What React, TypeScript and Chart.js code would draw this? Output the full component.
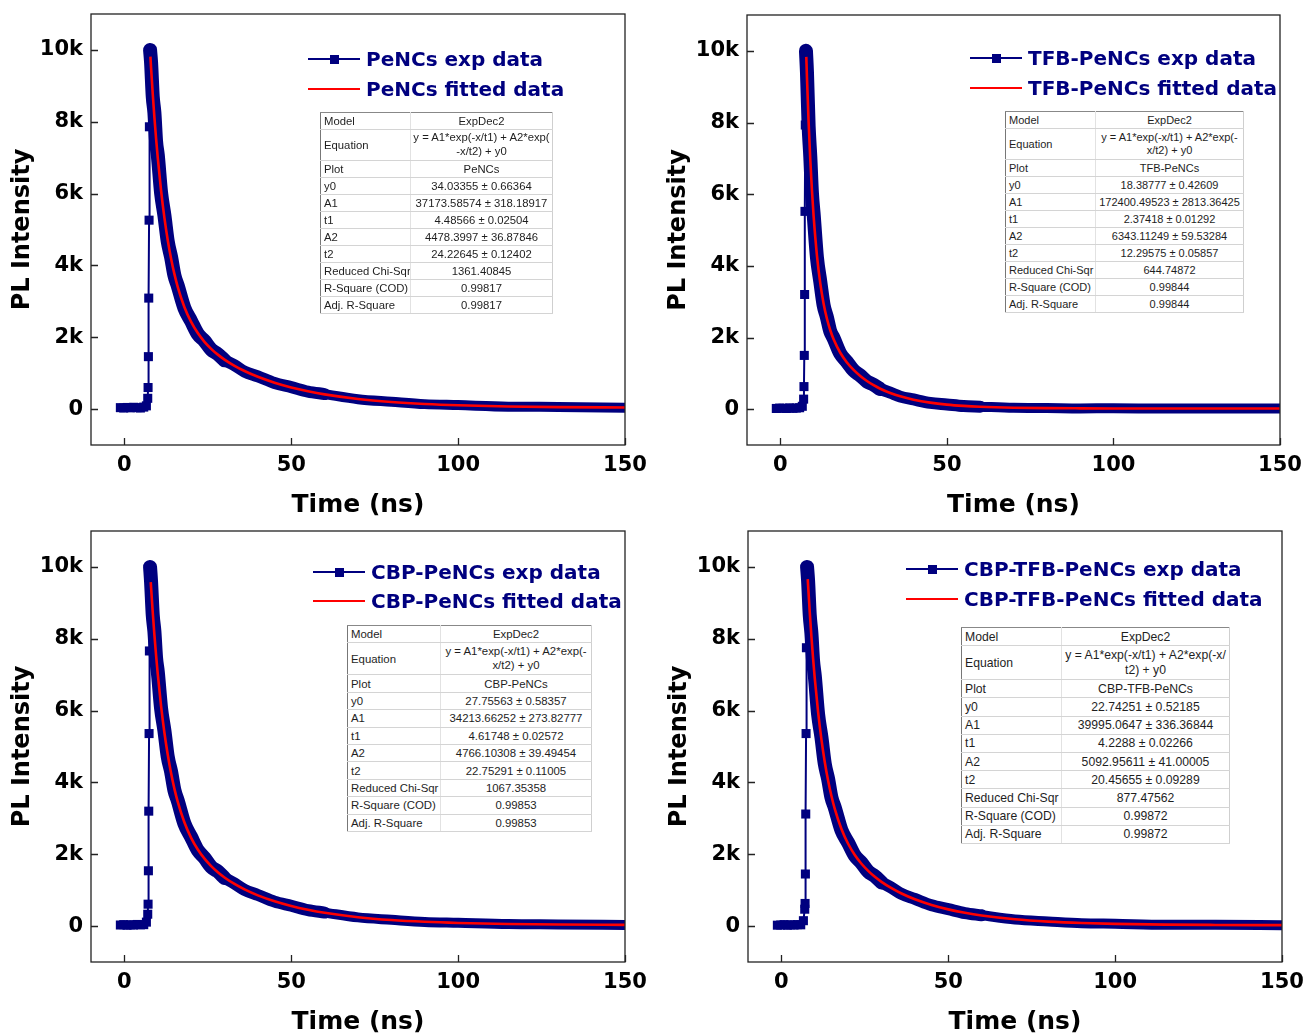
import React, { useEffect, useRef } from "react";
import { Chart, registerables } from "chart.js";

Chart.register(...registerables);

// ---------- axes ----------
const X_TICK_VALUES = [0, 50, 100, 150];
const X_TICK_LABELS = ["0", "50", "100", "150"];
const Y_TICK_VALUES = [0, 2000, 4000, 6000, 8000, 10000];
const Y_TICK_LABELS = ["0", "2k", "4k", "6k", "8k", "10k"];
const X_MIN = -10;
const X_MAX = 150;
const Y_MIN = -1000;
const Y_MAX = 11000;

// ---------- sampling times (ns) ----------
const BASELINE_TIME_NS = [-1.2, -0.2, 0.8, 1.8, 2.8, 3.8, 4.8, 5.8, 6.6];
const RISE_TIME_NS = [7.0, 7.1, 7.2, 7.3, 7.4, 7.5, 7.6, 7.7];
const DECAY_TIME_NS = [8, 8.5, 9, 9.5, 10, 11, 12, 13, 14, 15, 16, 18, 20, 22, 24, 26, 28, 30, 33, 36, 40, 45, 50, 55, 60, 70, 80, 90, 100, 115, 130, 150];
// the noisier early part of the decay is drawn as a wider band
const BAND_SEGMENTS_NS = [
  [0, 30],
  [30, 60],
  [60, 150],
];
const BAND_WIDTHS = [14, 12, 10];

// ---------- PeNCs ----------
const PENCS_BASELINE = [40, 30, 45, 35, 50, 40, 30, 55, 90];
const PENCS_RISE = [300, 600, 1460, 3090, 5260, 7860, 9230, 10000];
const PENCS_EXP = [9650, 8700, 8250, 7450, 7080, 6020, 5390, 4660, 4230, 3720, 3430, 2810, 2450, 2090, 1900, 1660, 1530, 1360, 1220, 1045, 910, 725, 612, 488, 418, 276, 205, 138, 111, 68, 60, 40];
const PENCS_FIT_START_NS = 7.8;
const PENCS_FIT_START = 9813;
const PENCS_FIT = [9501, 8776, 8122, 7532, 6999, 6079, 5324, 4701, 4186, 3757, 3398, 2836, 2426, 2116, 1873, 1678, 1516, 1379, 1205, 1060, 898, 735, 603, 497, 410, 283, 199, 143, 106, 73, 55, 43];

// ---------- TFB-PeNCs ----------
const TFB_BASELINE = [20, 30, 25, 20, 35, 25, 30, 40, 80];
const TFB_RISE = [280, 630, 1500, 3200, 5520, 7930, 9400, 10000];
const TFB_EXP = [9400, 7900, 7050, 6020, 5450, 4230, 3560, 2900, 2560, 2170, 1980, 1550, 1320, 1080, 940, 775, 680, 560, 460, 350, 270, 176, 132, 87, 70, 37, 31, 21, 24, 16, 20, 17];
const TFB_FIT_START_NS = 7.8;
const TFB_FIT_START = 9832;
const TFB_FIT = [9256, 8000, 6961, 6101, 5386, 4288, 3509, 2944, 2524, 2202, 1949, 1574, 1303, 1095, 926, 787, 670, 571, 452, 358, 264, 182, 127, 91, 67, 40, 28, 23, 20, 19, 18.5, 18.4];

// ---------- CBP-PeNCs ----------
const CBP_BASELINE = [30, 40, 25, 35, 30, 45, 35, 40, 110];
const CBP_RISE = [330, 610, 1540, 3200, 5360, 7660, 9300, 10000];
const CBP_EXP = [9580, 8660, 8200, 7460, 7090, 6060, 5440, 4710, 4300, 3780, 3490, 2850, 2480, 2110, 1900, 1650, 1520, 1340, 1185, 1008, 866, 680, 566, 445, 376, 242, 175, 114, 91, 55, 46, 31];
const CBP_FIT_START_NS = 7.9;
const CBP_FIT_START = 9578;
const CBP_FIT = [9432, 8738, 8109, 7540, 7022, 6126, 5384, 4768, 4254, 3821, 3457, 2882, 2457, 2132, 1877, 1670, 1500, 1354, 1172, 1021, 855, 689, 558, 453, 369, 248, 169, 119, 87, 58, 43, 34];

// ---------- CBP-TFB-PeNCs ----------
const CBPTFB_BASELINE = [25, 30, 40, 25, 35, 30, 40, 35, 150];
const CBPTFB_RISE = [470, 630, 1450, 3120, 5360, 7750, 9210, 10000];
const CBPTFB_EXP = [9620, 8660, 8150, 7380, 6980, 5900, 5260, 4520, 4100, 3580, 3300, 2670, 2320, 1960, 1760, 1520, 1390, 1215, 1068, 895, 756, 580, 472, 362, 300, 184, 130, 81, 65, 38, 35, 24];
const CBPTFB_FIT_START_NS = 7.9;
const CBPTFB_FIT_START = 9660;
const CBPTFB_FIT = [9499, 8743, 8065, 7455, 6905, 5964, 5198, 4569, 4051, 3621, 3262, 2702, 2292, 1980, 1735, 1537, 1372, 1231, 1054, 907, 747, 588, 465, 369, 294, 189, 125, 85, 61, 41, 32, 26];

// ---------- legends ----------
const PENCS_LEGEND = ["PeNCs exp data", "PeNCs fitted data"];
const TFB_LEGEND = ["TFB-PeNCs exp data", "TFB-PeNCs fitted data"];
const CBP_LEGEND = ["CBP-PeNCs exp data", "CBP-PeNCs fitted data"];
const CBPTFB_LEGEND = ["CBP-TFB-PeNCs exp data", "CBP-TFB-PeNCs fitted data"];

// ---------- fit tables ----------
const TABLE_LABELS = ["Model", "Equation", "Plot", "y0", "A1", "t1", "A2", "t2", "Reduced Chi-Sqr", "R-Square (COD)", "Adj. R-Square"];
const PENCS_EQUATION = ["y = A1*exp(-x/t1) + A2*exp(", "-x/t2) + y0"];
const TFB_EQUATION = ["y = A1*exp(-x/t1) + A2*exp(-", "x/t2) + y0"];
const CBP_EQUATION = ["y = A1*exp(-x/t1) + A2*exp(-", "x/t2) + y0"];
const CBPTFB_EQUATION = ["y = A1*exp(-x/t1) + A2*exp(-x/", "t2) + y0"];
const PENCS_TABLE = ["ExpDec2", "", "PeNCs", "34.03355 ± 0.66364", "37173.58574 ± 318.18917", "4.48566 ± 0.02504", "4478.3997 ± 36.87846", "24.22645 ± 0.12402", "1361.40845", "0.99817", "0.99817"];
const TFB_TABLE = ["ExpDec2", "", "TFB-PeNCs", "18.38777 ± 0.42609", "172400.49523 ± 2813.36425", "2.37418 ± 0.01292", "6343.11249 ± 59.53284", "12.29575 ± 0.05857", "644.74872", "0.99844", "0.99844"];
const CBP_TABLE = ["ExpDec2", "", "CBP-PeNCs", "27.75563 ± 0.58357", "34213.66252 ± 273.82777", "4.61748 ± 0.02572", "4766.10308 ± 39.49454", "22.75291 ± 0.11005", "1067.35358", "0.99853", "0.99853"];
const CBPTFB_TABLE = ["ExpDec2", "", "CBP-TFB-PeNCs", "22.74251 ± 0.52185", "39995.0647 ± 336.36844", "4.2288 ± 0.02266", "5092.95611 ± 41.00005", "20.45655 ± 0.09289", "877.47562", "0.99872", "0.99872"];

const NAVY = "#00007f";
const RED = "#ff0000";
const AXIS_FONT = "'DejaVu Sans', Verdana, sans-serif";
const TABLE_FONT = "'Liberation Sans', Arial, sans-serif";

type PanelCfg = {
  key: string;
  canvas: { x: number; y: number; w: number; h: number };
  padTop: number;
  padRight: number;
  xAxisH: number;
  titlePadBottom: number;
  legend: { sampleX: number; textX: number; rowsY: number[]; labels: string[] };
  table: { x: number; y: number; w: number; col1: number; rowH: number; eqH: number; font: number; values: string[]; eq: string[] };
  baseline: number[];
  rise: number[];
  exp: number[];
  fitStartT: number;
  fitStart: number;
  fit: number[];
};

const PANELS: PanelCfg[] = [
  {
    key: "pencs",
    canvas: { x: 0, y: 0, w: 650, h: 520 },
    padTop: 14, padRight: 25, xAxisH: 75, titlePadBottom: 0,
    legend: { sampleX: 308, textX: 366, rowsY: [59, 89], labels: PENCS_LEGEND },
    table: { x: 320, y: 112, w: 232, col1: 90, rowH: 17, eqH: 31, font: 11.3, values: PENCS_TABLE, eq: PENCS_EQUATION },
    baseline: PENCS_BASELINE, rise: PENCS_RISE, exp: PENCS_EXP,
    fitStartT: PENCS_FIT_START_NS, fitStart: PENCS_FIT_START, fit: PENCS_FIT,
  },
  {
    key: "tfb",
    canvas: { x: 656, y: 0, w: 649, h: 520 },
    padTop: 15, padRight: 25, xAxisH: 75, titlePadBottom: 0,
    legend: { sampleX: 970, textX: 1028, rowsY: [58, 88], labels: TFB_LEGEND },
    table: { x: 1005, y: 111, w: 238, col1: 90, rowH: 17, eqH: 31, font: 11, values: TFB_TABLE, eq: TFB_EQUATION },
    baseline: TFB_BASELINE, rise: TFB_RISE, exp: TFB_EXP,
    fitStartT: TFB_FIT_START_NS, fitStart: TFB_FIT_START, fit: TFB_FIT,
  },
  {
    key: "cbp",
    canvas: { x: 0, y: 517, w: 650, h: 518 },
    padTop: 14, padRight: 25, xAxisH: 73, titlePadBottom: -2,
    legend: { sampleX: 313, textX: 371, rowsY: [572, 601], labels: CBP_LEGEND },
    table: { x: 347, y: 625, w: 244, col1: 93, rowH: 17.4, eqH: 32, font: 11.4, values: CBP_TABLE, eq: CBP_EQUATION },
    baseline: CBP_BASELINE, rise: CBP_RISE, exp: CBP_EXP,
    fitStartT: CBP_FIT_START_NS, fitStart: CBP_FIT_START, fit: CBP_FIT,
  },
  {
    key: "cbptfb",
    canvas: { x: 657, y: 517, w: 648, h: 518 },
    padTop: 14, padRight: 23, xAxisH: 73, titlePadBottom: -2,
    legend: { sampleX: 906, textX: 964, rowsY: [569, 599], labels: CBPTFB_LEGEND },
    table: { x: 961, y: 627, w: 268, col1: 100, rowH: 18.2, eqH: 34, font: 12.2, values: CBPTFB_TABLE, eq: CBPTFB_EQUATION },
    baseline: CBPTFB_BASELINE, rise: CBPTFB_RISE, exp: CBPTFB_EXP,
    fitStartT: CBPTFB_FIT_START_NS, fitStart: CBPTFB_FIT_START, fit: CBPTFB_FIT,
  },
];

const framePlugin = {
  id: "frameTicks",
  afterDraw(chart: any) {
    const { ctx, chartArea: a, scales } = chart;
    const xs = scales.x;
    const ys = scales.y;
    ctx.save();
    ctx.strokeStyle = "#222";
    ctx.lineWidth = 1.3;
    ctx.strokeRect(a.left, a.top, a.right - a.left, a.bottom - a.top);
    ctx.beginPath();
    for (const v of X_TICK_VALUES) {
      const px = Math.round(xs.getPixelForValue(v)) + 0.5;
      ctx.moveTo(px, a.bottom);
      ctx.lineTo(px, a.bottom - 7);
    }
    for (const v of Y_TICK_VALUES) {
      const py = Math.round(ys.getPixelForValue(v)) + 0.5;
      ctx.moveTo(a.left, py);
      ctx.lineTo(a.left + 7, py);
    }
    ctx.stroke();
    ctx.restore();
  },
};

function clearPadding(s: any) {
  s.paddingTop = 0;
  s.paddingBottom = 0;
  s.paddingLeft = 0;
  s.paddingRight = 0;
}

function buildConfig(cfg: PanelCfg): any {
  const markerData = [
    ...BASELINE_TIME_NS.map((t, i) => ({ x: t, y: cfg.baseline[i] })),
    ...RISE_TIME_NS.map((t, i) => ({ x: t, y: cfg.rise[i] })),
  ];
  const last = RISE_TIME_NS.length - 1;
  const expPts = [{ x: RISE_TIME_NS[last], y: cfg.rise[last] }, ...DECAY_TIME_NS.map((t, i) => ({ x: t, y: cfg.exp[i] }))];
  const fitData = [
    { x: cfg.fitStartT, y: cfg.fitStart },
    ...DECAY_TIME_NS.map((t, i) => ({ x: t, y: cfg.fit[i] })),
  ];
  const bands = BAND_SEGMENTS_NS.map(([a, b], k) => ({
    label: cfg.legend.labels[0] + " band " + k,
    data: expPts.filter((p) => p.x >= a && p.x <= b),
    showLine: true,
    borderColor: NAVY,
    borderWidth: BAND_WIDTHS[k],
    borderJoinStyle: "round",
    borderCapStyle: "round",
    pointRadius: 0,
    cubicInterpolationMode: "monotone",
    clip: 0,
  }));
  return {
    type: "scatter",
    data: {
      datasets: [
        {
          label: cfg.legend.labels[1],
          data: fitData,
          showLine: true,
          borderColor: RED,
          borderWidth: 2.6,
          pointRadius: 0,
          cubicInterpolationMode: "monotone",
          clip: 0,
        },
        {
          label: cfg.legend.labels[0],
          data: markerData,
          showLine: true,
          borderColor: NAVY,
          backgroundColor: NAVY,
          borderWidth: 2,
          pointStyle: "rect",
          pointRadius: 6.4,
          pointBorderWidth: 0,
          pointBackgroundColor: NAVY,
          tension: 0,
          clip: 0,
        },
        ...bands,
      ],
    },
    options: {
      animation: false,
      responsive: false,
      events: [],
      layout: { padding: { top: cfg.padTop, right: cfg.padRight, bottom: 0, left: 0 } },
      plugins: { legend: { display: false }, tooltip: { enabled: false } },
      scales: {
        x: {
          type: "linear",
          min: X_MIN,
          max: X_MAX,
          afterBuildTicks: (s: any) => {
            s.ticks = X_TICK_VALUES.map((v) => ({ value: v }));
          },
          afterFit: (s: any) => {
            s.height = cfg.xAxisH;
            clearPadding(s);
          },
          grid: { display: false, drawTicks: false },
          border: { display: false },
          ticks: {
            padding: 8,
            autoSkip: false,
            maxRotation: 0,
            color: "#000",
            font: { family: AXIS_FONT, size: 21, weight: "bold" },
            callback: (v: number) => X_TICK_LABELS[X_TICK_VALUES.indexOf(v)] ?? "",
          },
          title: {
            display: true,
            text: "Time (ns)",
            color: "#000",
            font: { family: AXIS_FONT, size: 25, weight: "bold" },
            padding: { top: 0, bottom: cfg.titlePadBottom },
          },
        },
        y: {
          type: "linear",
          min: Y_MIN,
          max: Y_MAX,
          afterBuildTicks: (s: any) => {
            s.ticks = Y_TICK_VALUES.map((v) => ({ value: v }));
          },
          afterFit: (s: any) => {
            s.width = 91;
            clearPadding(s);
          },
          grid: { display: false, drawTicks: false },
          border: { display: false },
          ticks: {
            padding: 8,
            color: "#000",
            font: { family: AXIS_FONT, size: 21, weight: "bold" },
            callback: (v: number) => Y_TICK_LABELS[Y_TICK_VALUES.indexOf(v)] ?? "",
          },
          title: {
            display: true,
            text: "PL Intensity",
            color: "#000",
            font: { family: AXIS_FONT, size: 24, weight: "bold" },
            padding: { top: 8.6, bottom: 0 },
          },
        },
      },
    },
    plugins: [framePlugin],
  };
}

function Legend({ cfg }: { cfg: PanelCfg }) {
  const { sampleX, textX, rowsY, labels } = cfg.legend;
  const textStyle: React.CSSProperties = {
    position: "absolute",
    left: textX,
    height: 24,
    lineHeight: "24px",
    fontFamily: AXIS_FONT,
    fontWeight: "bold",
    fontSize: 20,
    color: NAVY,
    whiteSpace: "nowrap",
  };
  return (
    <>
      <div style={{ position: "absolute", left: sampleX, top: rowsY[0] - 1.2, width: 52, height: 2.4, background: NAVY }} />
      <div style={{ position: "absolute", left: sampleX + 21.5, top: rowsY[0] - 4.5, width: 9, height: 9, background: NAVY }} />
      <div style={{ ...textStyle, top: rowsY[0] - 12 }}>{labels[0]}</div>
      <div style={{ position: "absolute", left: sampleX, top: rowsY[1] - 1.4, width: 52, height: 2.8, background: RED }} />
      <div style={{ ...textStyle, top: rowsY[1] - 12 }}>{labels[1]}</div>
    </>
  );
}

function FitTable({ cfg }: { cfg: PanelCfg }) {
  const t = cfg.table;
  const cell1: React.CSSProperties = {
    padding: "0 0 0 3px",
    textAlign: "left",
    verticalAlign: "middle",
    borderBottom: "1px solid #d4d4d4",
    borderRight: "1px solid #e2e2e2",
    whiteSpace: "nowrap",
    overflow: "hidden",
  };
  const cell2: React.CSSProperties = {
    padding: "0 1px",
    textAlign: "center",
    verticalAlign: "middle",
    borderBottom: "1px solid #d4d4d4",
    whiteSpace: "nowrap",
    overflow: "hidden",
  };
  return (
    <table
      style={{
        position: "absolute",
        left: t.x,
        top: t.y,
        width: t.w,
        borderCollapse: "collapse",
        tableLayout: "fixed",
        fontFamily: TABLE_FONT,
        fontSize: t.font,
        color: "#1e1e1e",
        background: "#fff",
        borderLeft: "1px solid #777",
        borderTop: "1px solid #888",
        borderRight: "1px solid #cfcfcf",
      }}
    >
      <colgroup>
        <col style={{ width: t.col1 }} />
        <col style={{ width: t.w - t.col1 }} />
      </colgroup>
      <tbody>
        {TABLE_LABELS.map((label, i) => (
          <tr key={label} style={{ height: i === 1 ? t.eqH : t.rowH }}>
            <td style={cell1}>{label}</td>
            <td style={{ ...cell2, lineHeight: i === 1 ? `${t.font * 1.2}px` : "normal" }}>
              {i === 1 ? (
                <>
                  {t.eq[0]}
                  <br />
                  {t.eq[1]}
                </>
              ) : (
                t.values[i]
              )}
            </td>
          </tr>
        ))}
      </tbody>
    </table>
  );
}

function Panel({ cfg }: { cfg: PanelCfg }) {
  const ref = useRef<HTMLCanvasElement>(null);
  useEffect(() => {
    if (!ref.current) return;
    const chart = new Chart(ref.current, buildConfig(cfg));
    return () => chart.destroy();
  }, [cfg]);
  return (
    <>
      <canvas
        ref={ref}
        width={cfg.canvas.w}
        height={cfg.canvas.h}
        style={{ position: "absolute", left: cfg.canvas.x, top: cfg.canvas.y, width: cfg.canvas.w, height: cfg.canvas.h, display: "block" }}
      />
      <Legend cfg={cfg} />
      <FitTable cfg={cfg} />
    </>
  );
}

export default function App() {
  return (
    <div style={{ position: "absolute", left: 0, top: 0, width: 1305, height: 1035, background: "#fff", overflow: "hidden" }}>
      {PANELS.map((p) => (
        <Panel key={p.key} cfg={p} />
      ))}
    </div>
  );
}
